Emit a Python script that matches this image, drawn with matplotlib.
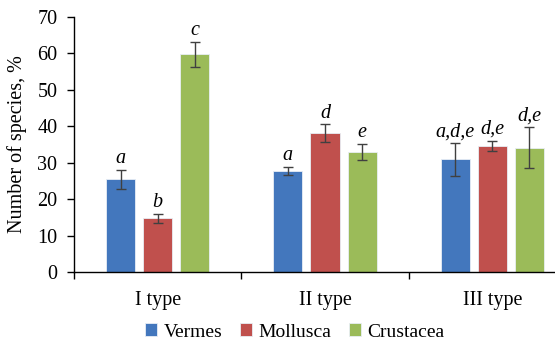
import matplotlib
matplotlib.use("Agg")
import matplotlib.pyplot as plt
import numpy as np

categories = ["I type", "II type", "III type"]
series = ["Vermes", "Mollusca", "Crustacea"]
vermes = [25.4, 27.7, 30.9]
mollusca = [14.7, 38.1, 34.6]
crustacea = [59.8, 33.0, 34.1]
vermes_err = [2.6, 1.1, 4.5]
mollusca_err = [1.3, 2.4, 1.4]
crustacea_err = [3.4, 2.2, 5.6]
vermes_lbl = ["a", "a", "a,d,e"]
mollusca_lbl = ["b", "d", "d,e"]
crustacea_lbl = ["c", "e", "d,e"]
colors = ["#4377BD", "#C0504D", "#9BBB59"]

plt.rcParams['font.family'] = ['Liberation Serif', 'DejaVu Serif']
FS = 14.5

fig = plt.figure(figsize=(5.55, 3.42), dpi=100)
ax = fig.add_axes([74/555, (342-272)/342, 502/555, (272-17)/342])

x = np.arange(len(categories))
w = 29/167
step = 37/167
vals = [vermes, mollusca, crustacea]
errs = [vermes_err, mollusca_err, crustacea_err]
lbls = [vermes_lbl, mollusca_lbl, crustacea_lbl]
for i, (v, e, l, c, s) in enumerate(zip(vals, errs, lbls, colors, series)):
    pos = x + (i-1)*step
    ax.bar(pos, v, width=w, color=c, edgecolor="#E8EEF5", linewidth=0.6, label=s, zorder=2)
    ax.errorbar(pos, v, yerr=e, fmt="none", ecolor="#404040", elinewidth=1.0, capsize=3.5, capthick=1.0, zorder=3)
    for p, vv, ee, ll in zip(pos, v, e, l):
        ax.text(p, vv+ee+0.5, ll, ha="center", va="bottom", style="italic", fontsize=FS)

ax.set_xlim(-0.5, 2.5)
ax.set_ylim(0, 70)
ax.set_yticks(range(0, 71, 10))
ax.tick_params(axis="y", labelsize=FS, direction="out", length=5, width=1, pad=7)
ax.set_xticks([-0.5, 0.5, 1.5, 2.5])
ax.set_xticklabels([])
ax.tick_params(axis="x", direction="out", length=5, width=1)
for xi, cname in zip(x, categories):
    ax.text(xi, -5.2, cname, ha="center", va="top", fontsize=FS)
ax.spines["top"].set_visible(False)
ax.spines["right"].set_visible(False)
ax.spines["left"].set_linewidth(1)
ax.spines["bottom"].set_linewidth(1)
ax.set_ylabel("Number of species, %", fontsize=FS, labelpad=7)

handles, labels = ax.get_legend_handles_labels()
fig.legend(handles, labels, loc="center", bbox_to_anchor=(295/555, 1-332/342), ncol=3,
           frameon=False, fontsize=14, handlelength=0.6, handleheight=0.6,
           handletextpad=0.35, columnspacing=0.9, borderaxespad=0)

fig.savefig("out.png", dpi=100)
